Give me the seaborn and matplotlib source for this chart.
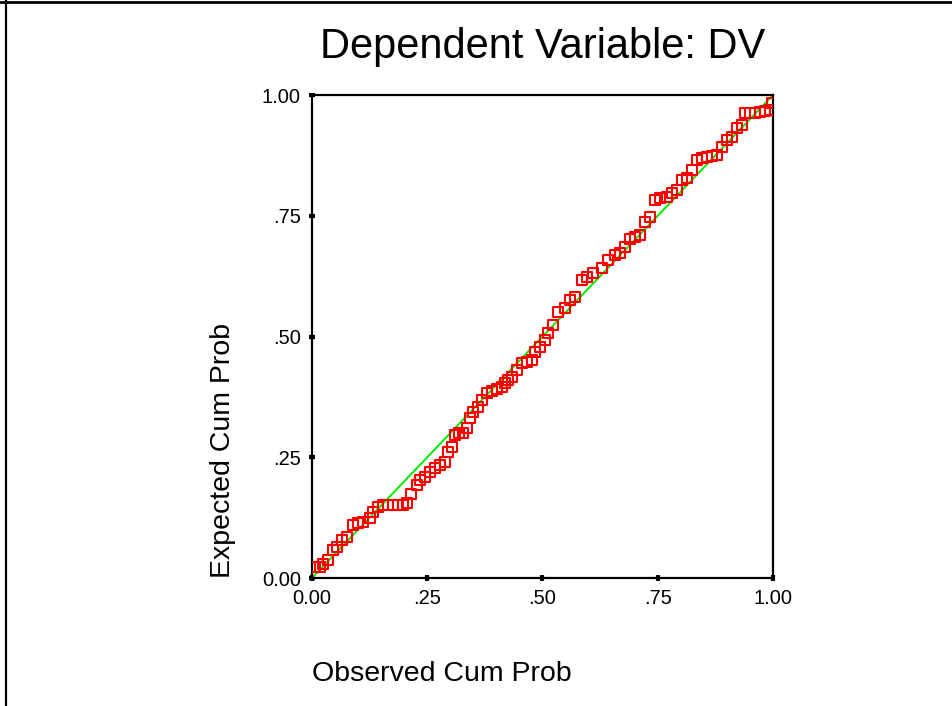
import matplotlib
matplotlib.use("Agg")
import matplotlib.pyplot as plt
import seaborn as sns
import pandas as pd
from matplotlib.lines import Line2D

# observed vs expected cumulative probabilities
observed = [0.007, 0.017, 0.024, 0.035, 0.046, 0.054, 0.065, 0.076, 0.089, 0.100,
            0.111, 0.126, 0.132, 0.143, 0.154, 0.165, 0.176, 0.187, 0.197, 0.206,
            0.215, 0.228, 0.234, 0.245, 0.256, 0.267, 0.278, 0.289, 0.295, 0.304,
            0.310, 0.319, 0.328, 0.336, 0.343, 0.349, 0.360, 0.369, 0.380, 0.390,
            0.401, 0.412, 0.419, 0.425, 0.434, 0.445, 0.456, 0.466, 0.477, 0.484,
            0.495, 0.505, 0.512, 0.523, 0.534, 0.549, 0.560, 0.570, 0.586, 0.597,
            0.610, 0.629, 0.642, 0.657, 0.668, 0.679, 0.690, 0.701, 0.711, 0.722,
            0.733, 0.744, 0.755, 0.770, 0.781, 0.792, 0.803, 0.813, 0.824, 0.835,
            0.846, 0.857, 0.868, 0.879, 0.889, 0.900, 0.911, 0.922, 0.933, 0.939,
            0.950, 0.961, 0.972, 0.983, 0.993, 0.998]
expected = [0.023, 0.023, 0.029, 0.037, 0.058, 0.064, 0.079, 0.085, 0.110, 0.114,
            0.116, 0.124, 0.137, 0.147, 0.151, 0.151, 0.151, 0.151, 0.151, 0.155,
            0.174, 0.193, 0.203, 0.209, 0.219, 0.228, 0.234, 0.240, 0.261, 0.271,
            0.296, 0.300, 0.300, 0.311, 0.331, 0.344, 0.354, 0.369, 0.383, 0.387,
            0.391, 0.395, 0.404, 0.410, 0.416, 0.431, 0.445, 0.447, 0.451, 0.468,
            0.478, 0.493, 0.507, 0.524, 0.551, 0.559, 0.576, 0.582, 0.617, 0.623,
            0.631, 0.642, 0.658, 0.669, 0.673, 0.685, 0.702, 0.706, 0.710, 0.737,
            0.747, 0.783, 0.787, 0.789, 0.797, 0.803, 0.824, 0.828, 0.845, 0.865,
            0.870, 0.872, 0.874, 0.876, 0.892, 0.907, 0.913, 0.932, 0.938, 0.963,
            0.963, 0.963, 0.965, 0.967, 0.969, 0.983]

ref_line = [0.0, 1.0]
ticks = [0.0, 0.25, 0.5, 0.75, 1.0]
tick_labels = ["0.00", ".25", ".50", ".75", "1.00"]

df = pd.DataFrame({"Observed": observed, "Expected": expected})

sns.set_style("white")
plt.rcParams["font.family"] = ["Liberation Sans", "DejaVu Sans"]
plt.rcParams["text.color"] = "black"

fig = plt.figure(figsize=(9.53, 7.06), dpi=100)
ax = fig.add_axes([0.3274, 0.1813, 0.4837, 0.6841])

sns.lineplot(x=ref_line, y=ref_line, color="#00ee00", linewidth=1.4, ax=ax)
sns.scatterplot(data=df, x="Observed", y="Expected", marker="s", s=52,
                fc="none", ec="red", linewidth=1.5, ax=ax, zorder=3)

ax.set_xlim(0, 1)
ax.set_ylim(0, 1)
ax.set_xticks(ticks)
ax.set_xticklabels(tick_labels)
ax.set_yticks(ticks)
ax.set_yticklabels(tick_labels)
ax.tick_params(bottom=True, left=True, direction="inout", length=4, width=3,
               color="black", labelsize=14.5, pad=6, labelcolor="black")

for sp in ax.spines.values():
    sp.set_color("black")
    sp.set_linewidth(1.6)

ax.set_title("Dependent Variable: DV", fontsize=30, pad=27, color="black")
ax.set_xlabel("Observed Cum Prob", fontsize=20.5, loc="left", color="black")
ax.set_ylabel("Expected Cum Prob", fontsize=20.5, loc="bottom", color="black")
ax.xaxis.set_label_coords(0.0, -0.172)
ax.yaxis.set_label_coords(-0.165, 0.0)

# outer frame lines (top and left only)
fig.add_artist(Line2D([0, 1], [0.9965, 0.9965], color="black", linewidth=2,
                      transform=fig.transFigure))
fig.add_artist(Line2D([0.0063, 0.0063], [0, 1], color="black", linewidth=1.6,
                      transform=fig.transFigure))

fig.savefig("out.png", dpi=100)
